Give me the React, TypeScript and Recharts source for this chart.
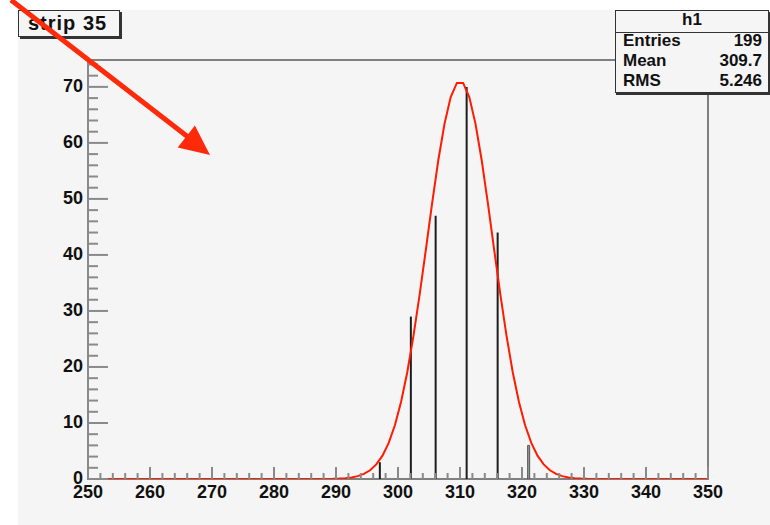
import { ComposedChart, Bar, Line, XAxis, YAxis, Cell, ReferenceArea } from 'recharts';

// histogram bins (centre, entries)
const binCenters = [297, 302, 306, 311, 316, 321];
const binCounts = [3, 29, 47, 70, 44, 6];
const binColors = ['#1c1c1c', '#1c1c1c', '#1c1c1c', '#1c1c1c', '#1c1c1c', '#9a9a9a'];

// gaussian fit as sampled polyline
const fitX = [
  250, 270, 289.5, 290.5, 291.5, 292.5, 293.5, 294.5, 295.5, 296.5, 297.5, 298.5, 299.5, 300.5, 301.5, 302.5, 303.5,
  304.5, 305.5, 306.5, 307.5, 308.5, 309.5, 310.5, 311.5, 312.5, 313.5, 314.5, 315.5, 316.5, 317.5, 318.5, 319.5,
  320.5, 321.5, 322.5, 323.5, 324.5, 325.5, 326.5, 327.5, 328.5, 329.5, 330.5, 340, 350,
];
const fitY = [
  0, 0, 0.03, 0.07, 0.14, 0.27, 0.51, 0.91, 1.56, 2.6, 4.17, 6.44, 9.6, 13.8, 19.1, 25.6, 33.0,
  41.0, 49.2, 56.9, 63.4, 68.2, 70.7, 70.7, 68.2, 63.4, 56.9, 49.2, 41.0, 33.0, 25.6, 19.1, 13.8,
  9.6, 6.44, 4.17, 2.6, 1.56, 0.91, 0.51, 0.27, 0.14, 0.07, 0.03, 0, 0,
];

const statNames = ['Entries', 'Mean', 'RMS'];
const statValues = ['199', '309.7', '5.246'];

const X_MIN = 250;
const X_MAX = 350;
const Y_MAX = 74.8;
const xTicks = Array.from({ length: 51 }, (_, i) => X_MIN + i * 2);
const yTicks = Array.from({ length: 38 }, (_, i) => i * 2);

// one table for both series, sorted by x
const rows = [
  ...fitX.map((x, i) => ({ x, fit: fitY[i] as number | null, count: null as number | null, color: '#000' })),
  ...binCenters.map((x, i) => ({ x, fit: null, count: binCounts[i], color: binColors[i] })),
].sort((a, b) => a.x - b.x);

const FONT = '"Liberation Sans", Arial, Helvetica, sans-serif';
const AXIS = '#8a8a8a';

function XTick(props: any) {
  const { x, y, payload } = props;
  const v = payload.value;
  const major = v % 10 === 0;
  return (
    <g>
      <line x1={x} x2={x} y1={y} y2={y - (major ? 12 : 6)} stroke={AXIS} strokeWidth={2} />
      {major && (
        <text x={x} y={y + 19} textAnchor="middle" fontFamily={FONT} fontWeight="bold" fontSize={18} fill="#111">
          {v}
        </text>
      )}
    </g>
  );
}

function YTick(props: any) {
  const { x, y, payload } = props;
  const v = payload.value;
  const major = v % 10 === 0;
  return (
    <g>
      <line x1={x} x2={x + (major ? 20 : 10)} y1={y} y2={y} stroke={AXIS} strokeWidth={2} />
      {major && (
        <text x={x - 5} y={y + 5} textAnchor="end" fontFamily={FONT} fontWeight="bold" fontSize={18} fill="#111">
          {v}
        </text>
      )}
    </g>
  );
}

export default function App() {
  return (
    <div style={{ position: 'fixed', left: 0, top: 0, width: 770, height: 525, background: '#fff', overflow: 'hidden' }}>
      <div style={{ position: 'absolute', left: 18, top: 10, width: 752, height: 515, background: '#f5f5f5' }} />
      <div style={{ position: 'absolute', left: 0, top: 0 }}>
        <ComposedChart width={770} height={525} data={rows} margin={{ top: 60, right: 62, bottom: 16, left: 18 }}>
          <XAxis
            dataKey="x"
            type="number"
            domain={[X_MIN, X_MAX]}
            ticks={xTicks}
            interval={0}
            tick={XTick}
            tickLine={false}
            tickSize={0}
            tickMargin={0}
            height={30}
            axisLine={false}
          />
          <YAxis
            type="number"
            domain={[0, Y_MAX]}
            ticks={yTicks}
            interval={0}
            tick={YTick}
            tickLine={false}
            tickSize={0}
            tickMargin={0}
            width={70}
            allowDataOverflow
            axisLine={{ stroke: AXIS, strokeWidth: 2 }}
          />
          <ReferenceArea x1={X_MIN} x2={X_MAX} y1={0} y2={Y_MAX} fill="none" stroke="#808080" strokeWidth={2} ifOverflow="visible" />
          <Bar dataKey="count" barSize={2} isAnimationActive={false}>
            {rows.map((r, i) => (
              <Cell key={i} fill={r.color} stroke={r.x === 321 ? '#555' : 'none'} />
            ))}
          </Bar>
          <Line
            dataKey="fit"
            type="linear"
            stroke="#ff1a00"
            strokeWidth={2}
            dot={false}
            connectNulls
            isAnimationActive={false}
            {...({ zIndex: 600 } as any)}
          />
        </ComposedChart>
      </div>

      {/* title box */}
      <div
        style={{
          position: 'absolute', left: 18, top: 10, width: 102, height: 27, border: '1px solid #333',
          boxShadow: '2px 2px 0 #333', background: '#f5f5f5', fontFamily: FONT, fontWeight: 'bold',
          fontSize: 20, letterSpacing: 1, lineHeight: '25px', paddingLeft: 9, boxSizing: 'border-box', color: '#111', whiteSpace: 'nowrap',
        }}
      >
        strip 35
      </div>

      {/* stats box */}
      <div
        style={{
          position: 'absolute', left: 615, top: 10, width: 152, height: 81, border: '1px solid #333',
          boxShadow: '1px 2px 0 #333', background: '#f5f5f5', fontFamily: FONT, fontWeight: 'bold', fontSize: 17, color: '#111',
        }}
      >
        <div style={{ height: 21, lineHeight: '18px', textAlign: 'center', borderBottom: '1px solid #333' }}>h1</div>
        {statNames.map((n, i) => (
          <div key={n} style={{ display: 'flex', justifyContent: 'space-between', padding: '0 6px 0 7px', height: 20, lineHeight: '16px' }}>
            <span>{n}</span>
            <span>{statValues[i]}</span>
          </div>
        ))}
      </div>

      {/* arrow annotation */}
      <svg width={770} height={525} style={{ position: 'absolute', left: 0, top: 0, pointerEvents: 'none' }}>
        <line x1={11} y1={0} x2={188} y2={137} stroke="#ff2a0a" strokeWidth={5} />
        <polygon points="210,155 177.7,147.5 194.9,125.5" fill="#ff2a0a" />
      </svg>
    </div>
  );
}
